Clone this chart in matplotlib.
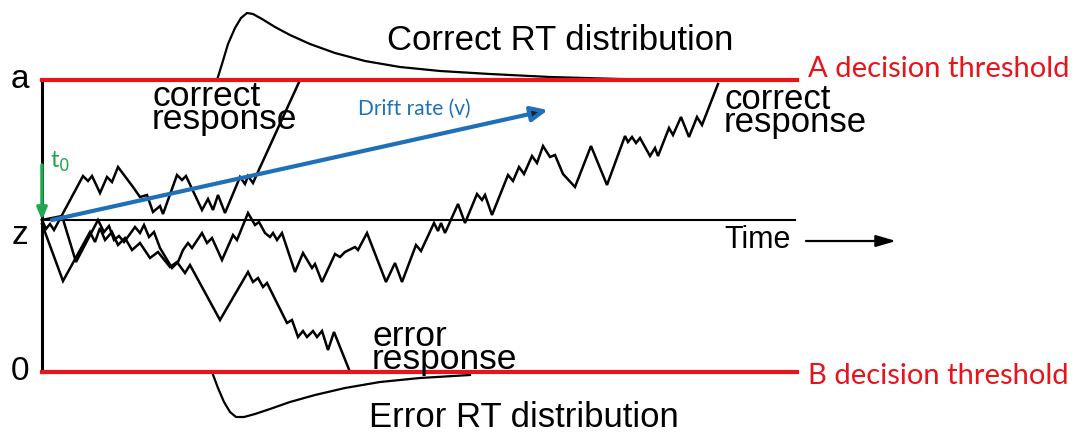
import matplotlib
matplotlib.use("Agg")
import matplotlib.pyplot as plt

# drift diffusion sketch, coordinates (y grows downward)
threshold_a = 80
threshold_b = 372
start_z = 220
t_start = 42
t_end = 797

# fast correct walk
walk_fast_x = [42, 46, 50, 54, 83, 88, 92, 100, 107, 112, 118, 133, 140, 147, 153, 160, 163,
               177, 182, 186, 202, 208, 213, 218, 225, 240, 245, 248, 253, 257, 300]
walk_fast_y = [220, 229, 224, 230, 176, 181, 176, 193, 177, 182, 167, 187, 197, 195, 212, 206, 214,
               175, 180, 176, 210, 199, 210, 195, 213, 177, 184, 176, 183, 174, 80]

# slow correct walk
walk_slow_x = [42, 62, 76, 98, 104, 109, 114, 119, 124, 130, 135, 140, 144, 149, 154, 160, 172, 178,
               183, 188, 192, 202, 207, 212, 222, 233, 237, 248, 255, 259, 265, 270, 273, 277, 282,
               295, 303, 312, 315, 322, 335, 340, 345, 355, 358, 367, 386, 395, 402, 416, 421, 434,
               438, 441, 445, 458, 465, 477, 482, 485, 492, 508, 513, 519, 524, 532, 537, 543, 550,
               555, 563, 575, 591, 607, 625, 628, 632, 636, 640, 650, 655, 658, 669, 673, 681, 689,
               697, 702, 718]
walk_slow_y = [220, 216, 262, 220, 232, 226, 240, 236, 242, 234, 227, 233, 225, 237, 232, 248, 268, 262,
               250, 243, 248, 233, 243, 238, 260, 235, 240, 213, 225, 222, 233, 237, 233, 240, 233,
               272, 253, 268, 264, 282, 254, 257, 252, 247, 250, 233, 282, 263, 282, 245, 251, 223,
               231, 223, 233, 204, 223, 194, 200, 195, 215, 175, 181, 167, 174, 156, 163, 146, 157,
               155, 174, 187, 146, 185, 136, 142, 137, 143, 138, 156, 148, 156, 128, 135, 117, 137,
               117, 125, 84]

# error walk
walk_err_x = [42, 63, 90, 95, 100, 105, 112, 118, 125, 132, 140, 150, 158, 170, 177, 185, 190, 220,
              248, 253, 258, 263, 267, 287, 292, 298, 303, 307, 313, 317, 322, 328, 334, 350]
walk_err_y = [224, 281, 232, 242, 228, 240, 232, 245, 238, 250, 243, 258, 252, 267, 262, 273, 265, 320,
              272, 282, 278, 287, 283, 323, 320, 337, 331, 337, 331, 337, 331, 350, 332, 372]

# RT distributions
correct_rt_x = [217, 222, 228, 235, 241, 247, 253, 262, 275, 290, 310, 335, 365, 400, 440, 490, 550, 620, 700]
correct_rt_y = [80, 64, 44, 28, 18, 13, 14, 19, 27, 35, 44, 53, 61, 67, 71, 74, 77, 79, 80]
error_rt_x = [212, 218, 224, 230, 236, 244, 255, 270, 290, 315, 345, 380, 420, 470]
error_rt_y = [372, 388, 402, 412, 417, 417, 414, 409, 402, 395, 388, 382, 378, 375]

red = "#e8141c"
blue = "#1f70b8"
green = "#1fa84f"
black_font = "Liberation Sans"
calibri_like = "Lato"

fig = plt.figure(figsize=(10.79, 4.32), dpi=100)
ax = fig.add_axes([0, 0, 1, 1])
ax.set_xlim(0, 1079)
ax.set_ylim(432, 0)
ax.axis("off")

# axes of the diagram
ax.plot([t_start, t_start], [threshold_a, threshold_b], color="black", lw=2.2)
ax.plot([t_start, 795], [start_z, start_z], color="black", lw=1.5)

# random walks
for xs, ys in [(walk_slow_x, walk_slow_y), (walk_err_x, walk_err_y), (walk_fast_x, walk_fast_y)]:
    ax.plot(xs, ys, color="black", lw=1.8, solid_joinstyle="miter")

# RT distributions
ax.plot(correct_rt_x, correct_rt_y, color="black", lw=1.6)
ax.plot(error_rt_x, error_rt_y, color="black", lw=1.6)

# thresholds
ax.plot([t_start, t_end], [threshold_a, threshold_a], color=red, lw=3)
ax.plot([t_start, t_end], [threshold_b, threshold_b], color=red, lw=3)

# drift rate arrow (dark head like the scanned original)
ax.annotate("", xy=(548, 110), xytext=(52, 220),
            arrowprops=dict(arrowstyle="-|>,head_length=1.0,head_width=0.45", ec=blue,
                            fc="#1b2230", lw=3, shrinkA=0, shrinkB=0))
# t0 arrow
ax.annotate("", xy=(42, 220), xytext=(42, 165),
            arrowprops=dict(arrowstyle="-|>,head_length=0.7,head_width=0.3", color=green,
                            lw=2.5, shrinkA=0, shrinkB=0))
# time arrow
ax.annotate("", xy=(896, 241), xytext=(806, 241),
            arrowprops=dict(arrowstyle="-|>,head_length=1.2,head_width=0.35", color="black",
                            lw=1.6, shrinkA=0, shrinkB=0))

# labels
ax.text(20, 80, "a", fontsize=24, family=black_font, ha="center", va="center")
ax.text(20, 236, "z", fontsize=24, family=black_font, ha="center", va="center")
ax.text(20, 372, "0", fontsize=24, family=black_font, ha="center", va="center")
ax.text(560, 50, "Correct RT distribution", fontsize=25, family=black_font, ha="center", va="baseline")
ax.text(524, 427, "Error RT distribution", fontsize=25, family=black_font, ha="center", va="baseline")
ax.text(152, 80, "correct\nresponse", fontsize=25.5, family=black_font, ha="left", va="top",
        linespacing=0.62)
ax.text(724, 83, "correct\nresponse", fontsize=25, family=black_font, ha="left", va="top",
        linespacing=0.62)
ax.text(372, 320, "error\nresponse", fontsize=25.5, family=black_font, ha="left", va="top",
        linespacing=0.62)
ax.text(724, 248, "Time", fontsize=22, family=black_font, ha="left", va="baseline")

ax.text(808, 77, "A decision threshold", fontsize=21, family=calibri_like, color=red,
        ha="left", va="baseline")
ax.text(808, 384, "B decision threshold", fontsize=21, family=calibri_like, color=red,
        ha="left", va="baseline")
ax.text(358, 115, "Drift rate (v)", fontsize=15, family=calibri_like, color=blue,
        ha="left", va="baseline")
ax.text(50, 168, "t$_0$", fontsize=17, family=calibri_like, color=green, ha="left", va="baseline")

fig.savefig("out.png", dpi=100)
